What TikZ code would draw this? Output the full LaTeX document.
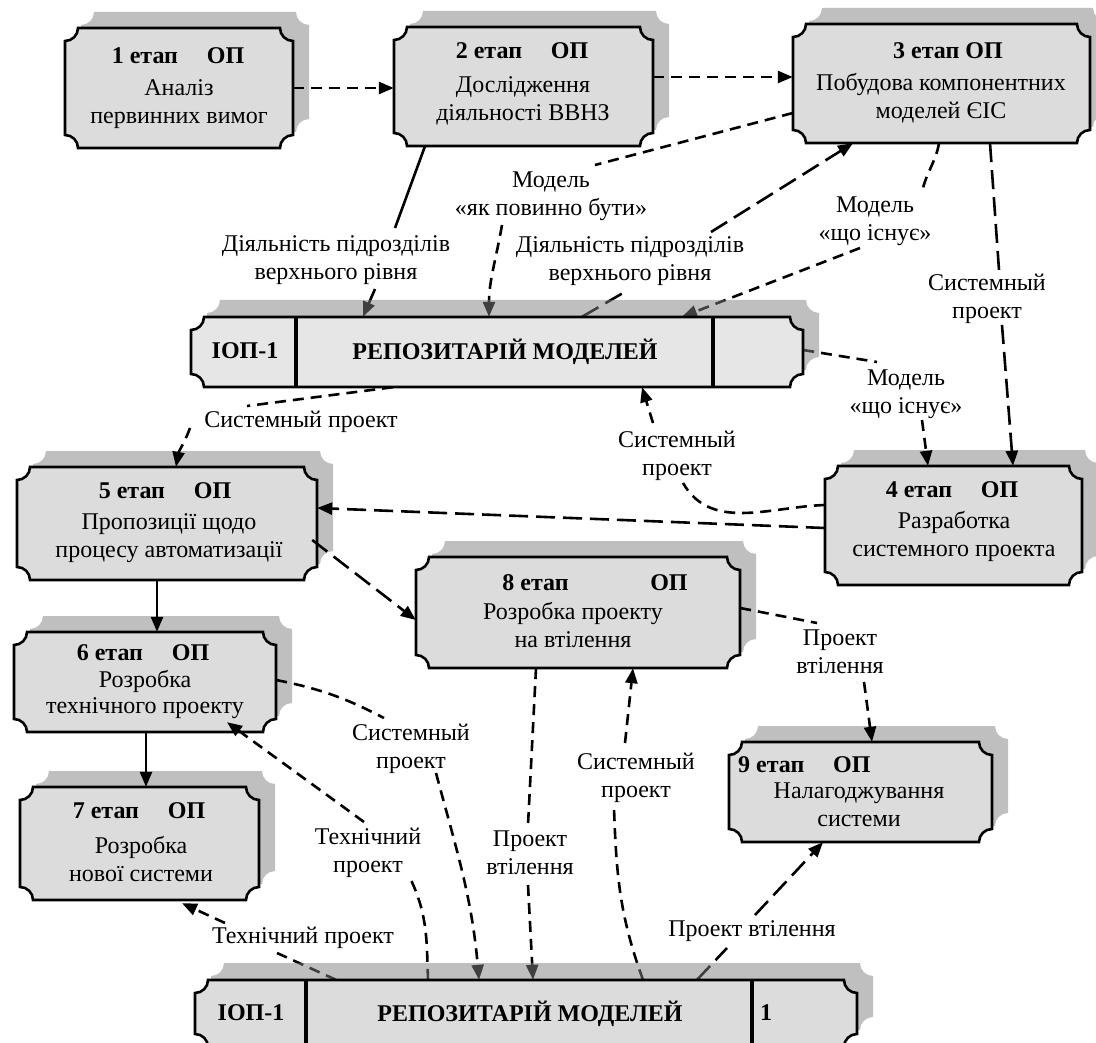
\documentclass[tikz,border=0pt]{standalone}
\usepackage{fontspec}
\setmainfont{Liberation Serif}
\usetikzlibrary{arrows.meta}
\definecolor{boxgray}{HTML}{DCDCDC}
\definecolor{repogray}{HTML}{E6E6E6}
\definecolor{shadowgray}{HTML}{BFBFBF}

\newcommand\ticketpath[6]{\path[#1] ({#2+#6},{-(#3)}) -- ({#4-#6},{-(#3)}) arc[start angle=180,end angle=270,radius=#6] -- ({#4},{-(#5)+#6}) arc[start angle=90,end angle=180,radius=#6] -- ({#2+#6},{-(#5)}) arc[start angle=0,end angle=90,radius=#6] -- ({#2},{-(#3)-#6}) arc[start angle=270,end angle=360,radius=#6] -- cycle;}

\newcommand\stage[5]{%
  \ticketpath{fill=shadowgray}{#2+16}{#3-16}{#4+16}{#5-16}{13}
  \ticketpath{fill=boxgray,draw=black,line width=2.6pt}{#2}{#3}{#4}{#5}{13}
  \node[inner sep=0pt,minimum width={#4-#2},minimum height={#5-#3}] (#1) at ({(#2+#4)/2},{-(#3+#5)/2}) {};
}
\newcommand\repoanchor[5]{%
  \node[inner sep=0pt,minimum width={#4-#2},minimum height={#5-#3}] (#1) at ({(#2+#4)/2},{-(#3+#5)/2}) {};
}
% #1..#4 box, #5 #6 separators, #7 fill colour
\newcommand\reposhape[7]{%
  \ticketpath{fill=black!50,fill opacity=0.5}{#1+16}{#2-17}{#3+16}{#4-17}{13}
  \ticketpath{fill=#7,draw=black,line width=2.6pt}{#1}{#2}{#3}{#4}{13}
  \draw[line width=4.5pt] (#5,-#2) -- (#5,-#4);
  \draw[line width=4.5pt] (#6,-#2) -- (#6,-#4);
}

\tikzset{
  txt/.style={align=center,inner sep=0pt,font=\fontsize{24}{28}\selectfont},
  ttl/.style={inner sep=0pt,font=\fontsize{24}{28}\selectfont\bfseries},
  lbl/.style={align=center,inner sep=0pt,font=\fontsize{24}{28}\selectfont},
  sdash/.style={line width=2.6pt,dash pattern=on 11pt off 7pt},
  ldash/.style={line width=2.6pt,dash pattern=on 19pt off 8pt},
  solidline/.style={line width=2.6pt},
  arr/.style={-{Triangle[length=15pt,width=12pt]}},
}

\begin{document}
\begin{tikzpicture}[x=1pt,y=1pt]
\useasboundingbox (0,0) rectangle (1096,-1043);
\clip (0,0) rectangle (1096,-1043);

% stage boxes
\stage{b1}{65}{28}{293}{148}
\stage{b2}{394}{27}{653}{146}
\stage{b3}{793}{24}{1090}{143}
\stage{b4}{825}{466}{1082}{585}
\stage{b5}{17}{467}{317}{580}
\stage{b6}{14}{632}{276}{732}
\stage{b7}{20}{787}{259}{900}
\stage{b8}{416}{557}{740}{668}
\stage{b9}{729}{742}{992}{842}

% repository anchors (shapes drawn after the connectors)
\repoanchor{r1}{191}{317}{803}{387}
\repoanchor{r2}{195}{980}{857}{1047}

% stage texts
\node[ttl] (t1) at (178,-58) {\strut 1 етап\hspace{1.2em}ОП};
\node[txt] (d1) at (179,-104) {\strut Аналіз\\\strut первинних вимог};
\node[ttl] (t2) at (522,-53) {\strut 2 етап\hspace{1.2em}ОП};
\node[txt] (d2) at (523,-101) {\strut Дослідження\\\strut діяльності ВВНЗ};
\node[ttl] (t3) at (948,-53) {\strut 3 етап ОП};
\node[txt] (d3) at (941,-99) {\strut Побудова компонентних\\\strut моделей ЄІС};
\node[ttl] (t4) at (952,-492) {\strut 4 етап\hspace{1.2em}ОП};
\node[txt] (d4) at (954,-536.5) {\strut Разработка\\\strut системного проекта};
\node[ttl] (t5) at (165,-493) {\strut 5 етап\hspace{1.2em}ОП};
\node[txt] (d5) at (169,-538) {\strut Пропозиції щодо\\\strut процесу автоматизації};
\node[ttl] (t6) at (143,-655) {\strut 6 етап\hspace{1.2em}ОП};
\node[txt,font=\fontsize{24}{26}\selectfont] (d6) at (145,-695) {\strut Розробка\\\strut технічного проекту};
\node[ttl] (t7) at (139,-813) {\strut 7 етап\hspace{1.2em}ОП};
\node[txt] (d7) at (141,-861.5) {\strut Розробка\\\strut нової системи};
\node[ttl] (t8) at (595,-585) {\strut 8 етап\hspace{3.4em}ОП};
\node[txt] (d8) at (573,-627.5) {\strut Розробка проекту\\\strut на втілення};
\node[ttl,anchor=west] (t9) at (738,-767) {\strut 9 етап\hspace{1.2em}ОП};
\node[txt] (d9) at (859,-806.5) {\strut Налагоджування\\\strut системи};

% connector labels
\node[lbl] (la) at (336,-260) {\strut Діяльність підрозділів\\\strut верхнього рівня};
\node[lbl] (lb) at (551,-196) {\strut Модель\\\strut «як повинно бути»};
\node[lbl] (lc) at (630,-261) {\strut Діяльність підрозділів\\\strut верхнього рівня};
\node[lbl] (ld) at (875,-221) {\strut Модель\\\strut «що існує»};
\node[lbl] (le) at (987,-299) {\strut Системный\\\strut проект};
\node[lbl] (lf) at (906,-394) {\strut Модель\\\strut «що існує»};
\node[lbl] (lg) at (677,-456) {\strut Системный\\\strut проект};
\node[lbl] (lh) at (301,-422) {\strut Системный проект};
\node[lbl] (li) at (840,-654) {\strut Проект\\\strut втілення};
\node[lbl] (lj) at (411,-748.5) {\strut Системный\\\strut проект};
\node[lbl] (lk) at (368,-852.5) {\strut Технічний\\\strut проект};
\node[lbl] (ll) at (303,-938) {\strut Технічний проект};
\node[lbl] (lm) at (530,-855) {\strut Проект\\\strut втілення};
\node[lbl] (ln) at (636,-777.5) {\strut Системный\\\strut проект};
\node[lbl] (lo) at (752,-931) {\strut Проект втілення};

% connectors
\draw[sdash,arr] (b1.east) -- (b1.east -| b2.west);
\draw[sdash,arr] ([yshift=9.5pt]b2.east) -- ([yshift=6.5pt]b3.west);
\draw[solidline] ([xshift=-98.5pt]b2.south) -- ([shift={(59,32)}]la.center);
\draw[solidline,arr] ([shift={(39,-29)}]la.center) -- ([xshift=-134pt]r1.north);
\draw[sdash] ([yshift=-29.5pt]b3.west) -- ([shift={(44,31)}]lb.center);
\draw[sdash,arr] ([shift={(-49,-29)}]lb.center) to[out=-100,in=90] ([xshift=-8pt]r1.north);
\draw[ldash,arr] ([shift={(81,29)}]lc.center) -- ([xshift=-88.5pt]b3.south);
\draw[ldash] ([xshift=85pt]r1.north) -- ([shift={(-7,-32)}]lc.center);
\draw[sdash] ([xshift=-2.5pt]b3.south) to[out=-100,in=75] ([shift={(48,33)}]ld.center);
\draw[sdash,arr] ([shift={(-15,-27)}]ld.center) -- ([xshift=185pt]r1.north);
\draw[ldash] ([xshift=48.5pt]b3.south) -- ([shift={(12,29)}]le.center);
\draw[ldash,arr] ([shift={(15,-26)}]le.center) -- ([xshift=59.5pt]b4.north);
\draw[sdash] ([yshift=2pt]r1.east) -- ([shift={(-29,32)}]lf.center);
\draw[sdash,arr] ([shift={(16,-26)}]lf.center) -- ([xshift=-25.5pt]b4.north);
\draw[sdash] ([yshift=20.5pt]b4.west) to[out=182,in=-60] ([shift={(6,-27)}]lg.center);
\draw[sdash,arr] ([shift={(-24,33)}]lg.center) -- ([xshift=145pt]r1.south);
\draw[ldash,arr] ([yshift=-2.5pt]b4.west) -- ([yshift=15.5pt]b5.east);
\draw[sdash] ([xshift=-104pt]r1.south) -- ([shift={(-54,16)}]lh.center);
\draw[sdash,arr] ([shift={(-111,-6)}]lh.center) to[out=-110,in=80] ([xshift=9pt]b5.north);
\draw[solidline,arr] ([xshift=-10pt]b5.south) -- ([xshift=12pt]b6.north);
\draw[solidline,arr] ([xshift=1pt]b6.south) -- ([xshift=6.5pt]b7.north);
\draw[ldash,arr] ([shift={(-5,-16.5)}]b5.east) -- ([yshift=-7.5pt]b8.west);
\draw[sdash] ([yshift=4.5pt]b8.east) -- ([shift={(-23,31)}]li.center);
\draw[sdash,arr] ([shift={(24,-28)}]li.center) -- ([xshift=11.5pt]b9.north);
\draw[sdash] ([yshift=2pt]b6.east) to[bend left=8] ([shift={(-27,30.5)}]lj.center);
\draw[sdash,arr] ([shift={(25,-24.5)}]lj.center) to[out=-75,in=95] ([xshift=-47pt]r2.north);
\draw[sdash,arr] ([shift={(-4,30.5)}]lk.center) -- ([shift={(82,10)}]b6.south);
\draw[sdash] ([xshift=-98pt]r2.north) to[out=92,in=-65] ([shift={(43,-27.5)}]lk.center);
\draw[sdash] ([xshift=-190pt]r2.north) -- ([shift={(-26,-15)}]ll.center);
\draw[sdash,arr] ([shift={(-78,15)}]ll.center) -- ([shift={(42.5,-3)}]b7.south);
\draw[sdash] ([xshift=-42pt]b8.south) -- ([shift={(-2,30)}]lm.center);
\draw[sdash,arr] ([shift={(-2,-30)}]lm.center) -- ([xshift=7pt]r2.north);
\draw[sdash] ([xshift=117pt]r2.north) to[out=110,in=-88] ([shift={(-22,-30.5)}]ln.center);
\draw[sdash,arr] ([shift={(-11,34.5)}]ln.center) -- ([xshift=55pt]b8.south);
\draw[ldash] ([xshift=171pt]r2.north) -- ([shift={(-25,-17)}]lo.center);
\draw[ldash,arr] ([shift={(3,16)}]lo.center) -- ([xshift=-37.5pt]b9.south);

% repositories (drawn over the connectors; their shadows tint them)
\reposhape{191}{317}{803}{387}{296}{713}{repogray}
\reposhape{195}{980}{857}{1047}{306}{752}{boxgray}
\node[ttl] (r1a) at (245,-353) {\strut ІОП-1};
\node[ttl] (r1b) at (505,-353) {\strut РЕПОЗИТАРІЙ МОДЕЛЕЙ};
\node[ttl] (r2a) at (251,-1015) {\strut ІОП-1};
\node[ttl] (r2b) at (530,-1015) {\strut РЕПОЗИТАРІЙ МОДЕЛЕЙ};
\node[ttl,anchor=west] (r2c) at (760,-1015) {\strut 1};
\end{tikzpicture}
\end{document}
